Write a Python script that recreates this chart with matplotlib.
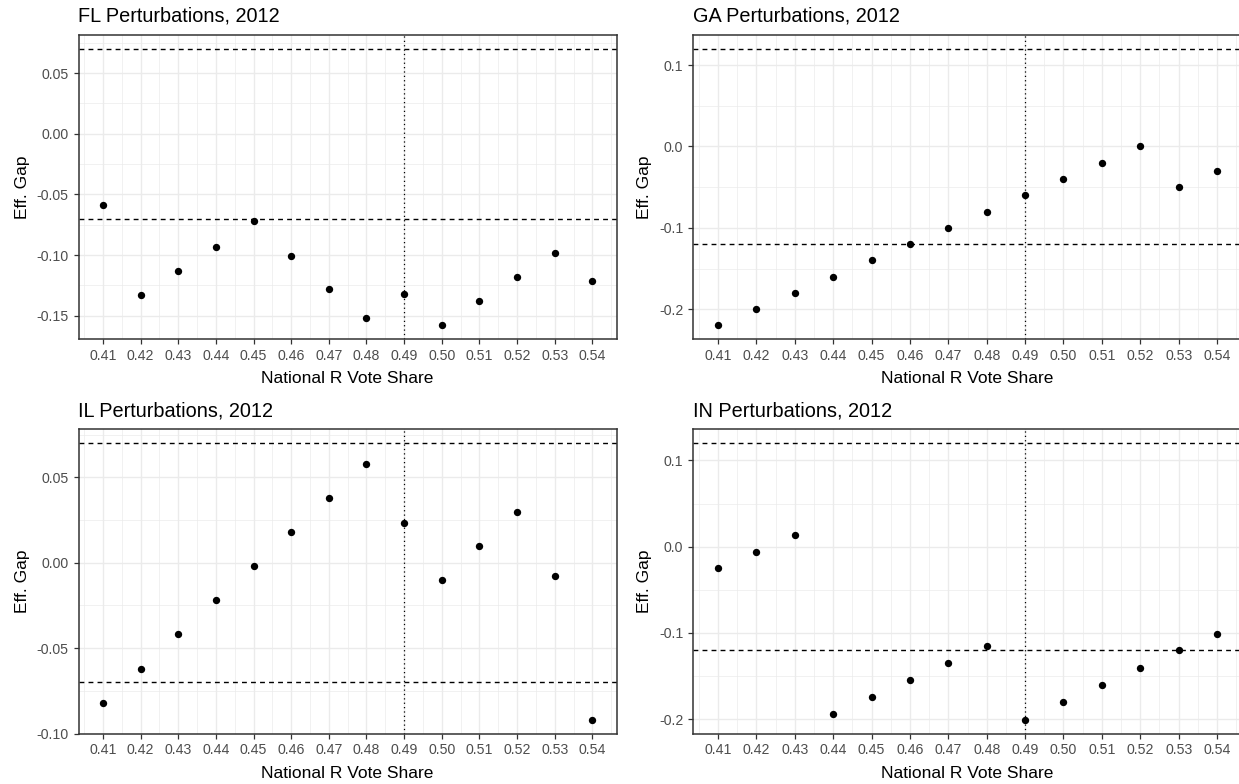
import matplotlib
matplotlib.use("Agg")
import matplotlib.pyplot as plt
from matplotlib.ticker import MultipleLocator, FormatStrFormatter
import numpy as np

plt.rcParams['font.family'] = ['Liberation Sans', 'DejaVu Sans']

# national R vote share perturbations
vote_share = [0.41, 0.42, 0.43, 0.44, 0.45, 0.46, 0.47, 0.48, 0.49,
              0.50, 0.51, 0.52, 0.53, 0.54]

# efficiency gap per state
fl_gap = [-0.059, -0.133, -0.113, -0.093, -0.072, -0.101, -0.128, -0.152,
          -0.132, -0.158, -0.138, -0.118, -0.098, -0.121]
ga_gap = [-0.22, -0.20, -0.18, -0.16, -0.14, -0.12, -0.10, -0.08,
          -0.06, -0.04, -0.02, 0.00, -0.05, -0.03]
il_gap = [-0.082, -0.062, -0.042, -0.022, -0.002, 0.018, 0.038, 0.058,
          0.023, -0.010, 0.010, 0.030, -0.008, -0.092]
in_gap = [-0.025, -0.006, 0.014, -0.194, -0.175, -0.155, -0.135, -0.115,
          -0.201, -0.180, -0.161, -0.141, -0.120, -0.101]

# threshold lines (+/- bound) and actual vote share
fl_bound = 0.07
ga_bound = 0.12
il_bound = 0.07
in_bound = 0.12
actual_share = 0.49

panels = [
    ("FL Perturbations, 2012", fl_gap, fl_bound, 0.05, "%.2f"),
    ("GA Perturbations, 2012", ga_gap, ga_bound, 0.1, "%.1f"),
    ("IL Perturbations, 2012", il_gap, il_bound, 0.05, "%.2f"),
    ("IN Perturbations, 2012", in_gap, in_bound, 0.1, "%.1f"),
]

W, H = 1239, 784
fig = plt.figure(figsize=(W / 100, H / 100), dpi=100)

# panel boxes in pixels: left, top, right, bottom
boxes = [(78.5, 35, 616.8, 339.3), (693, 35, 1242, 339.3),
         (78.5, 429.4, 616.8, 733.7), (693, 429.4, 1242, 733.7)]


def expand(lo, hi, frac=0.05):
    d = (hi - lo) * frac
    return lo - d, hi + d


for (title, gap, bound, step, fmt), (l, t, r, b) in zip(panels, boxes):
    ax = fig.add_axes([l / W, 1 - b / H, (r - l) / W, (b - t) / H])
    ax.set_facecolor("white")

    ax.scatter(vote_share, gap, s=28, color="black", zorder=3, linewidths=0)
    ax.axhline(bound, color="black", lw=1.0, ls=(0, (3.5, 3)), zorder=2)
    ax.axhline(-bound, color="black", lw=1.0, ls=(0, (3.5, 3)), zorder=2)
    ax.axvline(actual_share, color="black", lw=0.9, ls=(0, (1, 2.5)), zorder=2)

    ax.set_xlim(*expand(min(vote_share), max(vote_share)))
    ax.set_ylim(*expand(min(min(gap), -bound), max(max(gap), bound)))

    ax.set_xticks(vote_share)
    ax.set_xticklabels(["%.2f" % v for v in vote_share])
    ax.xaxis.set_minor_locator(MultipleLocator(0.005))
    ax.yaxis.set_major_locator(MultipleLocator(step))
    ax.yaxis.set_minor_locator(MultipleLocator(step / 2))
    ax.yaxis.set_major_formatter(FormatStrFormatter(fmt))

    ax.grid(which="major", color="#EBEBEB", lw=1.0, zorder=0)
    ax.grid(which="minor", color="#EBEBEB", lw=0.5, zorder=0)
    ax.set_axisbelow(True)

    for sp in ax.spines.values():
        sp.set_color("#333333")
        sp.set_linewidth(1.1)

    ax.tick_params(which="major", length=3.5, width=0.9, color="#333333",
                   labelsize=10.2, labelcolor="#4D4D4D", pad=3.5)
    ax.tick_params(which="minor", length=0)

    ax.set_title(title, loc="left", fontsize=14.3, pad=9.5)
    ax.set_xlabel("National R Vote Share", fontsize=12.5, labelpad=6)
    ax.set_ylabel("Eff. Gap", fontsize=12.5, labelpad=5)

fig.savefig("out.png", dpi=100, facecolor="white")
